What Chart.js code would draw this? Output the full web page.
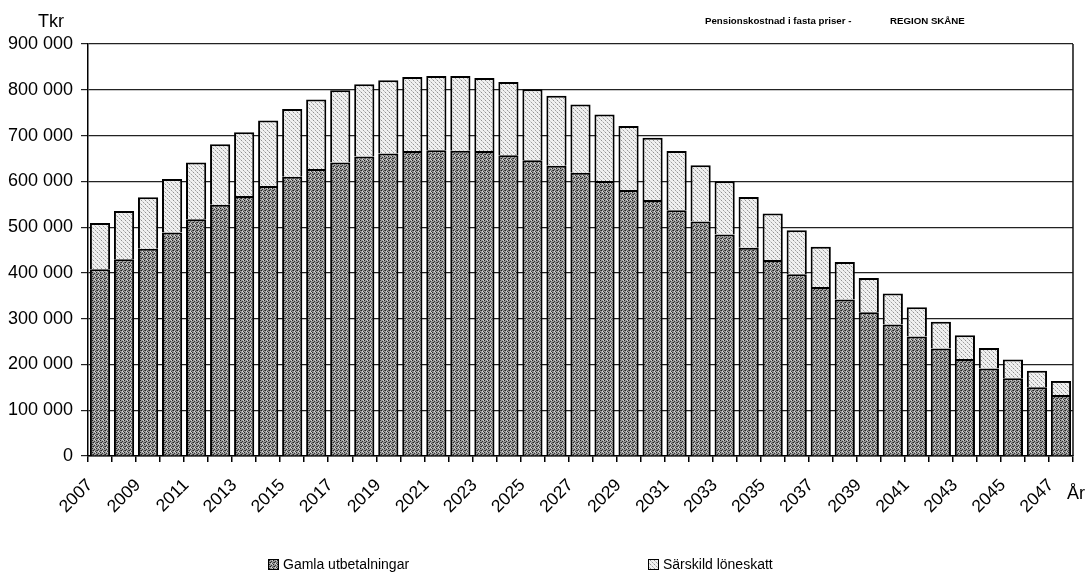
<!DOCTYPE html>
<html>
<head>
<meta charset="utf-8">
<script src="https://cdn.jsdelivr.net/npm/chart.js@4.4.1/dist/chart.umd.min.js"></script>
<style>
  body { margin: 0; background: #fff; font-family: "Liberation Sans", Arial, sans-serif; }
  #wrap { position: relative; width: 1089px; height: 573px; }
  .txt { position: absolute; color: #000; white-space: nowrap; }
  .box { display: inline-block; width: 9px; height: 9px; border: 1px solid #000; margin-right: 4px; vertical-align: -1px; }
</style>
</head>
<body>
<div id="wrap">
  <canvas id="chart"></canvas>
  <div class="txt" style="left:38px; top:11px; font-size:18px;">Tkr</div>
  <div class="txt" style="left:705px; top:15px; font-size:9.7px; font-weight:bold;">Pensionskostnad i fasta priser -</div>
  <div class="txt" style="left:890px; top:15px; font-size:9.7px; font-weight:bold;">REGION SKÅNE</div>
  <div class="txt" style="left:1067px; top:483px; font-size:18px;">År</div>
  <div id="legend"></div>
</div>
<script>
const years = [
  "2007", "2008", "2009", "2010", "2011", "2012", "2013", "2014", "2015", "2016",
  "2017", "2018", "2019", "2020", "2021", "2022", "2023", "2024", "2025", "2026",
  "2027", "2028", "2029", "2030", "2031", "2032", "2033", "2034", "2035", "2036",
  "2037", "2038", "2039", "2040", "2041", "2042", "2043", "2044", "2045", "2046", "2047"
];

// Tkr
const gamlaUtbetalningar = [
  408000, 430000, 453000, 488000, 517000, 549000, 568000, 590000, 610000, 627000,
  641000, 654000, 661000, 666000, 668000, 667000, 666000, 657000, 646000, 634000,
  619000, 601000, 581000, 559000, 537000, 512000, 484000, 455000, 428000, 397000,
  369000, 342000, 314000, 287000, 261000, 235000, 212000, 191000, 170000, 150000, 133000
];

const sarskildLoneskatt = [
  101000, 105000, 112000, 117000, 124000, 132000, 139000, 143000, 148000, 152000,
  158000, 158000, 160000, 162000, 162000, 163000, 160000, 160000, 155000, 153000,
  149000, 145000, 140000, 136000, 129000, 123000, 116000, 111000, 102000, 96000,
  88000, 82000, 75000, 68000, 64000, 58000, 52000, 45000, 41000, 36000, 31000
];

const yTicks = [0, 100000, 200000, 300000, 400000, 500000, 600000, 700000, 800000, 900000];

// small stipple textures, like the scanned print
function makePattern(base, dots) {
  const c = document.createElement("canvas");
  c.width = 4;
  c.height = 4;
  const g = c.getContext("2d");
  g.fillStyle = base;
  g.fillRect(0, 0, 4, 4);
  dots.forEach(d => {
    g.fillStyle = d[2];
    g.fillRect(d[0], d[1], 1, 1);
  });
  return c;
}

const darkTex = makePattern("#9a9a9a", [
  [0, 0, "#222"], [2, 1, "#333"], [1, 2, "#222"], [3, 3, "#444"],
  [2, 3, "#dcdcdc"], [3, 0, "#d0d0d0"], [0, 2, "#555"]
]);
const lightTex = makePattern("#f0f0f0", [
  [1, 0, "#909090"], [3, 2, "#a0a0a0"], [0, 3, "#c4c4c4"], [2, 1, "#d0d0d0"]
]);

const ctx = document.getElementById("chart").getContext("2d");
const darkFill = ctx.createPattern(darkTex, "repeat");
const lightFill = ctx.createPattern(lightTex, "repeat");

function fmt(v) {
  return String(v).replace(/\B(?=(\d{3})+(?!\d))/g, " ");
}

const rightBorder = {
  id: "rightBorder",
  afterDatasetsDraw(chart) {
    const a = chart.chartArea;
    const c = chart.ctx;
    c.save();
    c.strokeStyle = "#111";
    c.lineWidth = 1.5;
    c.beginPath();
    c.moveTo(a.right, a.top);
    c.lineTo(a.right, a.bottom);
    c.stroke();
    c.restore();
  }
};

Chart.defaults.font.family = '"Liberation Sans", Arial, sans-serif';
Chart.defaults.color = "#000";

const chart = new Chart(ctx, {
  type: "bar",
  data: {
    labels: years,
    datasets: [
      {
        label: "Gamla utbetalningar",
        data: gamlaUtbetalningar,
        backgroundColor: darkFill,
        borderColor: "#000",
        borderWidth: 2,
        legendTex: darkTex,
      },
      {
        label: "Särskild löneskatt",
        data: sarskildLoneskatt,
        backgroundColor: lightFill,
        borderColor: "#000",
        borderWidth: 2,
        legendTex: lightTex,
      },
    ],
  },
  options: {
    responsive: true,
    maintainAspectRatio: false,
    animation: false,
    layout: { padding: { left: 0, right: 14, top: 44, bottom: 0 } },
    datasets: { bar: { barPercentage: 0.84, categoryPercentage: 1 } },
    plugins: {
      legend: { display: false },
      tooltip: { enabled: false },
    },
    scales: {
      x: {
        stacked: true,
        grid: { drawOnChartArea: false, drawTicks: true, tickLength: 6, color: "#000", lineWidth: 1.5 },
        border: { color: "#000", width: 1.5 },
        ticks: {
          autoSkip: false,
          maxRotation: 45,
          minRotation: 45,
          labelOffset: -10,
          padding: 13,
          font: { size: 17.5 },
          callback: (v, i) => (i % 2 === 0 ? years[i] : ""),
        },
        afterFit: (s) => { s.height = 117; },
      },
      y: {
        stacked: true,
        min: 0,
        max: 900000,
        afterBuildTicks: (s) => { s.ticks = yTicks.map(v => ({ value: v })); },
        grid: { color: "#222", lineWidth: 1.2, tickLength: 7 },
        border: { color: "#000", width: 1.5 },
        ticks: {
          padding: 8,
          font: { size: 18 },
          callback: (v) => fmt(v),
        },
        afterFit: (s) => { s.width = 88; },
      },
    },
  },
  plugins: [rightBorder],
});

// legend below the chart, spread like the original
const legendPos = [268, 648];
const legend = document.getElementById("legend");
chart.data.datasets.forEach((ds, i) => {
  const item = document.createElement("div");
  item.className = "txt";
  item.style.left = legendPos[i] + "px";
  item.style.top = "556px";
  item.style.fontSize = "14px";
  const box = document.createElement("span");
  box.className = "box";
  box.style.backgroundImage = "url(" + ds.legendTex.toDataURL() + ")";
  item.appendChild(box);
  item.appendChild(document.createTextNode(ds.label));
  legend.appendChild(item);
});
</script>
</body>
</html>
